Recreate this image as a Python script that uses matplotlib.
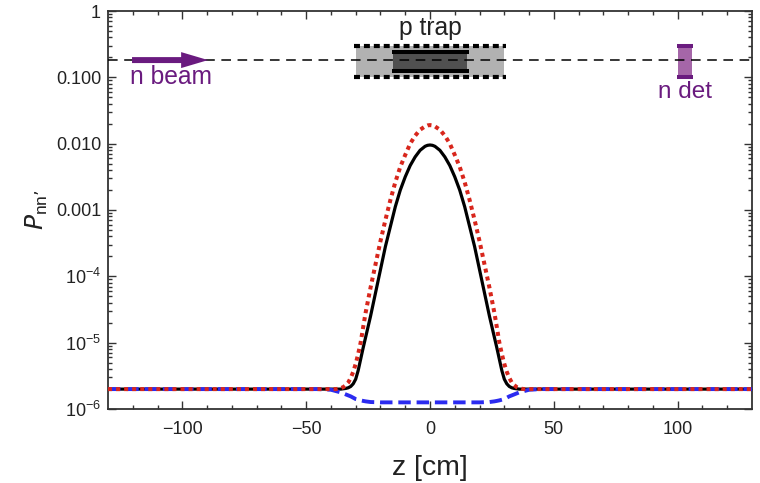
import numpy as np
import matplotlib
matplotlib.use("Agg")
import matplotlib.pyplot as plt
from matplotlib.patches import Rectangle, FancyArrowPatch

plt.rcParams['font.family'] = ['Liberation Sans', 'DejaVu Sans']

# half curves (log10 P), symmetric around z = 0
z_half = [0, 1, 2, 4, 6, 8, 10, 12, 14, 16, 18, 20, 22, 24, 26, 27, 28, 29, 30, 31, 32, 33, 34, 35, 36, 37, 38, 40, 45, 50, 130]
black_log = [-2.02, -2.025, -2.04, -2.10, -2.20, -2.33, -2.50, -2.70, -2.95, -3.25, -3.55, -3.90,
             -4.25, -4.60, -4.92, -5.08, -5.25, -5.42, -5.55, -5.62, -5.66, -5.68, -5.69, -5.695,
             -5.70, -5.70, -5.70, -5.70, -5.70, -5.70, -5.70]
red_log = [-1.72, -1.725, -1.74, -1.79, -1.88, -2.00, -2.17, -2.35, -2.58, -2.85, -3.15, -3.47,
           -3.82, -4.17, -4.55, -4.77, -5.00, -5.17, -5.32, -5.44, -5.53, -5.60, -5.64, -5.67,
           -5.685, -5.695, -5.70, -5.70, -5.70, -5.70, -5.70]
blue_log = [-5.90, -5.90, -5.90, -5.90, -5.90, -5.90, -5.90, -5.90, -5.90, -5.90, -5.90, -5.90,
            -5.897, -5.895, -5.885, -5.878, -5.87, -5.86, -5.85, -5.83, -5.81, -5.795, -5.78, -5.765,
            -5.75, -5.74, -5.73, -5.71, -5.70, -5.70, -5.70]

x_ticks = [-100, -50, 0, 50, 100]
x_labels = ['\u2212100', '\u221250', '0', '50', '100']
y_ticks = [1e-6, 1e-5, 1e-4, 1e-3, 1e-2, 1e-1, 1]
y_labels = ['$\\mathregular{10^{-6}}$', '$\\mathregular{10^{-5}}$', '$\\mathregular{10^{-4}}$',
            '0.001', '0.010', '0.100', '1']

purple = '#6a1b7f'
frame = '#333333'


def mirror(vals):
    # same values on the negative z side
    vals = np.array(vals, dtype=float)
    return np.concatenate((vals[:0:-1], vals))


z = np.concatenate((-np.array(z_half[:0:-1], dtype=float), np.array(z_half, dtype=float)))

fig = plt.figure(figsize=(7.6, 4.83), dpi=100)
ax = fig.add_axes([108 / 760, 1 - 409 / 483, 644 / 760, 398 / 483])
ax.set_yscale('log')
ax.set_xlim(-130, 130)
ax.set_ylim(1e-6, 1)

##the little sketch of the setup at the top
beam_y = 0.182
ax.add_patch(Rectangle((-30, 0.1), 60, 0.3 - 0.1, facecolor='#b2b2b2', edgecolor='none', zorder=1))
ax.add_patch(Rectangle((-15, 0.125), 30, 0.245 - 0.125, facecolor='#505050', edgecolor='none', zorder=2))
ax.plot([-30.5, 30.5], [0.3, 0.3], color='k', lw=3, ls=(0, (1.43, 0.95)), zorder=3)
ax.plot([-30.5, 30.5], [0.1, 0.1], color='k', lw=3, ls=(0, (1.43, 0.95)), zorder=3)
ax.plot([-15.5, 15.8], [0.245, 0.245], color='k', lw=2.9, zorder=3, solid_capstyle='butt')
ax.plot([-15.5, 15.8], [0.125, 0.125], color='k', lw=2.9, zorder=3, solid_capstyle='butt')
ax.add_patch(Rectangle((100.2, 0.1), 5.4, 0.3 - 0.1, facecolor='#a566a8', edgecolor='none', zorder=1))
ax.plot([99.8, 106.2], [0.3, 0.3], color=purple, lw=2.9, zorder=3, solid_capstyle='butt')
ax.plot([99.8, 106.2], [0.1, 0.1], color=purple, lw=2.9, zorder=3, solid_capstyle='butt')
ax.plot([-130, 130], [beam_y, beam_y], color='k', lw=1.1, ls=(0, (6.3, 4.3)), zorder=4)
ax.add_patch(FancyArrowPatch((-120.3, beam_y), (-89.6, beam_y), mutation_scale=10, lw=0, color=purple,
                             arrowstyle='simple,head_length=1.94,head_width=1.15,tail_width=0.43',
                             shrinkA=0, shrinkB=0, zorder=5))

ax.text(-104.5, 0.1, 'n beam', color=purple, fontsize=17.7, ha='center', va='center')
ax.text(0, 0.55, 'p trap', color='#222222', fontsize=17.7, ha='center', va='center')
ax.text(103, 0.06, 'n det', color=purple, fontsize=17.5, ha='center', va='center')

##curves
ax.plot(z, 10.0 ** mirror(black_log), color='k', lw=2.3, zorder=6)
ax.plot(z, 10.0 ** mirror(blue_log), color='#2b2bf0', lw=2.8, ls=(0, (3.2, 1.5)), zorder=7)
ax.plot(z, 10.0 ** mirror(red_log), color='#d8261c', lw=2.9, ls=(0, (1.0, 1.0)), zorder=8)

##ticks
ax.set_xticks(x_ticks)
ax.set_xticklabels(x_labels)
ax.set_xticks(np.arange(-120, 121, 10), minor=True)
ax.set_yticks(y_ticks)
ax.set_yticklabels(y_labels)
ax.yaxis.set_minor_locator(matplotlib.ticker.LogLocator(base=10, subs=np.arange(2, 10), numticks=12))
ax.yaxis.set_minor_formatter(matplotlib.ticker.NullFormatter())
ax.tick_params(which='major', direction='in', top=True, right=True, length=6, width=1,
               color=frame, labelsize=13, labelcolor='#222222')
ax.tick_params(axis='x', which='major', pad=9)
ax.tick_params(axis='y', which='major', pad=5)
ax.tick_params(which='minor', direction='in', top=True, right=True, length=3, width=1, color=frame)
for s in ax.spines.values():
    s.set_linewidth(1.3)
    s.set_color(frame)

ax.set_xlabel('z [cm]', fontsize=20.5, color='#222222', labelpad=12)
ax.set_ylabel("$\\mathit{P}_{\\mathregular{nn\u2019}}$", fontsize=18, color='#222222', labelpad=4)

fig.savefig('out.png', dpi=100)
